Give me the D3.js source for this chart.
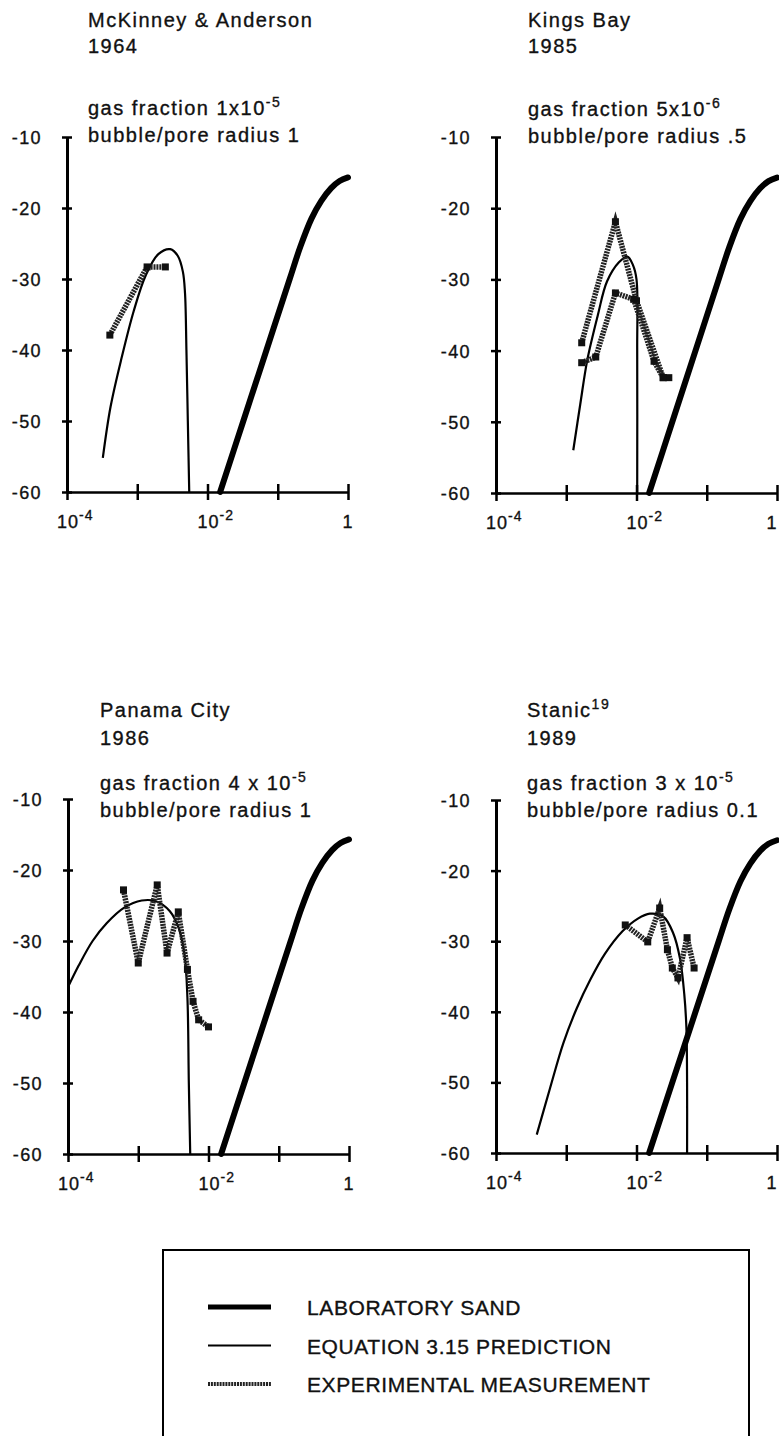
<!DOCTYPE html>
<html>
<head>
<meta charset="utf-8">
<script src="https://cdn.jsdelivr.net/npm/d3@7"></script>
<style>
  body { margin: 0; background: #fff; }
  text { font-family: "Liberation Sans", Arial, sans-serif; fill: #111; stroke: #111; stroke-width: 0.35px; }
</style>
</head>
<body>
<svg id="chart" width="779" height="1436"></svg>
<script>
// x values are log10(frequency ratio), y values are dB
var xTicks = [1e-4, 1e-3, 1e-2, 1e-1, 1];
var xLabels = [[1e-4, "10", "-4"], [1e-2, "10", "-2"], [1, "1", ""]];
var yTicks = [-10, -20, -30, -40, -50, -60];

var labSand = [[-1.82, -60], [-1.49, -50], [-1.16, -40], [-0.83, -30], [-0.68, -25.5],
  [-0.52, -21.5], [-0.38, -19], [-0.24, -17.2], [-0.12, -16.2], [0, -15.7]];

var mckinneyEq = [[-3.49, -55.2], [-3.38, -48], [-3.22, -41], [-3.05, -34.5], [-2.88, -29.5],
  [-2.7, -26.5], [-2.53, -25.8], [-2.42, -26.8], [-2.35, -29], [-2.32, -32], [-2.3, -40],
  [-2.28, -50], [-2.26, -60]];
var mckinneyExp = [[-3.39, -37.9], [-2.86, -28.3], [-2.6, -28.3]];

var kingsEq = [[-2.9, -54], [-2.8, -47.5], [-2.7, -41.3], [-2.55, -35], [-2.42, -30.3],
  [-2.25, -27.6], [-2.13, -26.8], [-2.05, -28], [-2.0, -30], [-1.99, -40], [-1.99, -60]];
var kingsExpA = [[-2.78, -38.9], [-2.3, -21.9], [-2.0, -33], [-1.62, -43.8], [-1.54, -43.8]];
var kingsExpB = [[-2.78, -41.7], [-2.58, -40.9], [-2.3, -31.9], [-2.04, -32.8], [-1.75, -41.5], [-1.62, -43.8]];

var panamaEq = [[-4, -36.5], [-3.85, -33.5], [-3.65, -30], [-3.45, -27.5], [-3.2, -25.3],
  [-2.95, -24.3], [-2.75, -24.4], [-2.55, -25.8], [-2.42, -28.3], [-2.34, -32], [-2.3, -38],
  [-2.28, -50], [-2.26, -60]];
var panamaExp = [[-3.21, -22.8], [-3.0, -33.1], [-2.73, -22.1], [-2.59, -31.7], [-2.43, -25.9],
  [-2.3, -34], [-2.22, -38.5], [-2.14, -41.1], [-2.0, -42.1]];

var stanicEq = [[-3.42, -57.4], [-3.23, -50.8], [-3.04, -44.4], [-2.85, -39.5], [-2.66, -35.5],
  [-2.45, -31.8], [-2.2, -28.6], [-1.98, -26.8], [-1.81, -26.1], [-1.62, -26.5], [-1.48, -28.8],
  [-1.38, -32.5], [-1.32, -37.5], [-1.29, -42.2], [-1.28, -50], [-1.28, -60]];
var stanicExp = [[-2.16, -27.7], [-1.84, -30.1], [-1.67, -25.3], [-1.56, -31.2], [-1.49, -33.8],
  [-1.41, -35.2], [-1.28, -29.5], [-1.18, -33.8]];

var panels = [
  {x0: 67, top: 137, bottom: 492, tx: 88, ty: [27, 53, 115, 142],
   title: "McKinney & Anderson", year: "1964", gas: ["gas fraction 1x10", "-5"], radius: "bubble/pore radius 1",
   eq: mckinneyEq, exp: [mckinneyExp]},
  {x0: 496, top: 137, bottom: 493, tx: 528, ty: [27, 53, 116, 143],
   title: "Kings Bay", year: "1985", gas: ["gas fraction 5x10", "-6"], radius: "bubble/pore radius .5",
   eq: kingsEq, exp: [kingsExpA, kingsExpB]},
  {x0: 68, top: 799, bottom: 1154, tx: 100, ty: [717, 745, 790, 817],
   title: "Panama City", year: "1986", gas: ["gas fraction 4 x 10", "-5"], radius: "bubble/pore radius 1",
   eq: panamaEq, exp: [panamaExp]},
  {x0: 496, top: 800, bottom: 1153, tx: 527, ty: [717, 745, 790, 817],
   title: "Stanic", titleSup: "19", year: "1989", gas: ["gas fraction 3 x 10", "-5"], radius: "bubble/pore radius 0.1",
   eq: stanicEq, exp: [stanicExp]}
];

var svg = d3.select("#chart");

panels.forEach(function (p) {
  var x = d3.scaleLog().domain([1e-4, 1]).range([p.x0, p.x0 + 281]);
  var y = d3.scaleLinear().domain([-60, -10]).range([p.bottom, p.top]);
  var g = svg.append("g");

  var line = d3.line()
    .x(function (d) { return x(Math.pow(10, d[0])); })
    .y(function (d) { return y(d[1]); });

  // laboratory sand
  g.append("path").datum(labSand)
    .attr("d", line.curve(d3.curveCatmullRom.alpha(0.5)))
    .attr("fill", "none").attr("stroke", "#000").attr("stroke-width", 6)
    .attr("stroke-linecap", "round");

  // equation 3.15 prediction
  g.append("path").datum(p.eq)
    .attr("d", line.curve(d3.curveCatmullRom.alpha(0.5)))
    .attr("fill", "none").attr("stroke", "#000").attr("stroke-width", 2.2);

  // experimental measurements
  p.exp.forEach(function (s) {
    g.append("path").datum(s)
      .attr("d", line.curve(d3.curveLinear))
      .attr("fill", "none").attr("stroke", "#222").attr("stroke-width", 5.5)
      .attr("stroke-dasharray", "2 0.9");
    g.selectAll(null).data(s).enter().append("rect")
      .attr("x", function (d) { return x(Math.pow(10, d[0])) - 3.5; })
      .attr("y", function (d) { return y(d[1]) - 3.5; })
      .attr("width", 7).attr("height", 7).attr("fill", "#111");
  });

  // axes
  var ya = g.append("g").attr("transform", "translate(" + p.x0 + ",0)")
    .call(d3.axisLeft(y).tickValues(yTicks).tickSize(5).tickSizeOuter(0).tickFormat(""));
  ya.selectAll(".tick line").attr("x1", -5).attr("x2", 5).attr("stroke-width", 2.5);
  ya.select(".domain").attr("stroke-width", 3);

  var xa = g.append("g").attr("transform", "translate(0," + p.bottom + ")")
    .call(d3.axisBottom(x).tickValues(xTicks).tickSize(8).tickSizeOuter(0).tickFormat(""));
  xa.selectAll(".tick line").attr("y1", -8).attr("y2", 8).attr("stroke-width", 2.5);
  xa.select(".domain").attr("stroke-width", 2.6);

  yTicks.forEach(function (v) {
    g.append("text").attr("x", p.x0 - 25).attr("y", y(v) + 7)
      .attr("text-anchor", "end").style("font-size", "18px").style("letter-spacing", "1.4px")
      .text(v);
  });

  xLabels.forEach(function (l) {
    var t = g.append("text").attr("y", p.bottom + 36).style("font-size", "18px").style("letter-spacing", "1px");
    if (l[2]) {
      t.attr("x", x(l[0]) - 10);
      t.append("tspan").text(l[1]);
      t.append("tspan").attr("dy", -8).style("font-size", "14px").text(l[2]);
    } else {
      t.attr("x", Math.min(x(l[0]), 772)).attr("text-anchor", "middle").text(l[1]);
    }
  });

  // panel titles
  var tstyle = function (sel) { return sel.style("font-size", "20px").style("letter-spacing", "1.5px"); };
  var t1 = g.append("text").attr("x", p.tx).attr("y", p.ty[0]).call(tstyle);
  t1.append("tspan").text(p.title);
  if (p.titleSup) t1.append("tspan").attr("dy", -8).style("font-size", "14px").text(p.titleSup);
  g.append("text").attr("x", p.tx).attr("y", p.ty[1]).call(tstyle).text(p.year);
  var t3 = g.append("text").attr("x", p.tx).attr("y", p.ty[2]).call(tstyle);
  t3.append("tspan").text(p.gas[0]);
  t3.append("tspan").attr("dy", -8).style("font-size", "14px").text(p.gas[1]);
  g.append("text").attr("x", p.tx).attr("y", p.ty[3]).call(tstyle).text(p.radius);
});

// legend
var legendItems = ["LABORATORY SAND", "EQUATION 3.15 PREDICTION", "EXPERIMENTAL MEASUREMENT"];
var lg = svg.append("g");
lg.append("rect").attr("x", 163).attr("y", 1250).attr("width", 586).attr("height", 200)
  .attr("fill", "none").attr("stroke", "#000").attr("stroke-width", 2);
var ly = d3.scalePoint().domain(legendItems).range([1307, 1384]);
legendItems.forEach(function (name, i) {
  var ln = lg.append("line").attr("x1", 208).attr("x2", 271)
    .attr("y1", ly(name)).attr("y2", ly(name)).attr("stroke", i === 2 ? "#222" : "#000");
  if (i === 0) ln.attr("stroke-width", 5);
  if (i === 1) ln.attr("stroke-width", 2);
  if (i === 2) ln.attr("stroke-width", 4).attr("stroke-dasharray", "2 0.9");
  lg.append("text").attr("x", 307).attr("y", ly(name) + 8)
    .style("font-size", "21px").style("letter-spacing", "0.6px").text(name);
});
</script>
</body>
</html>
